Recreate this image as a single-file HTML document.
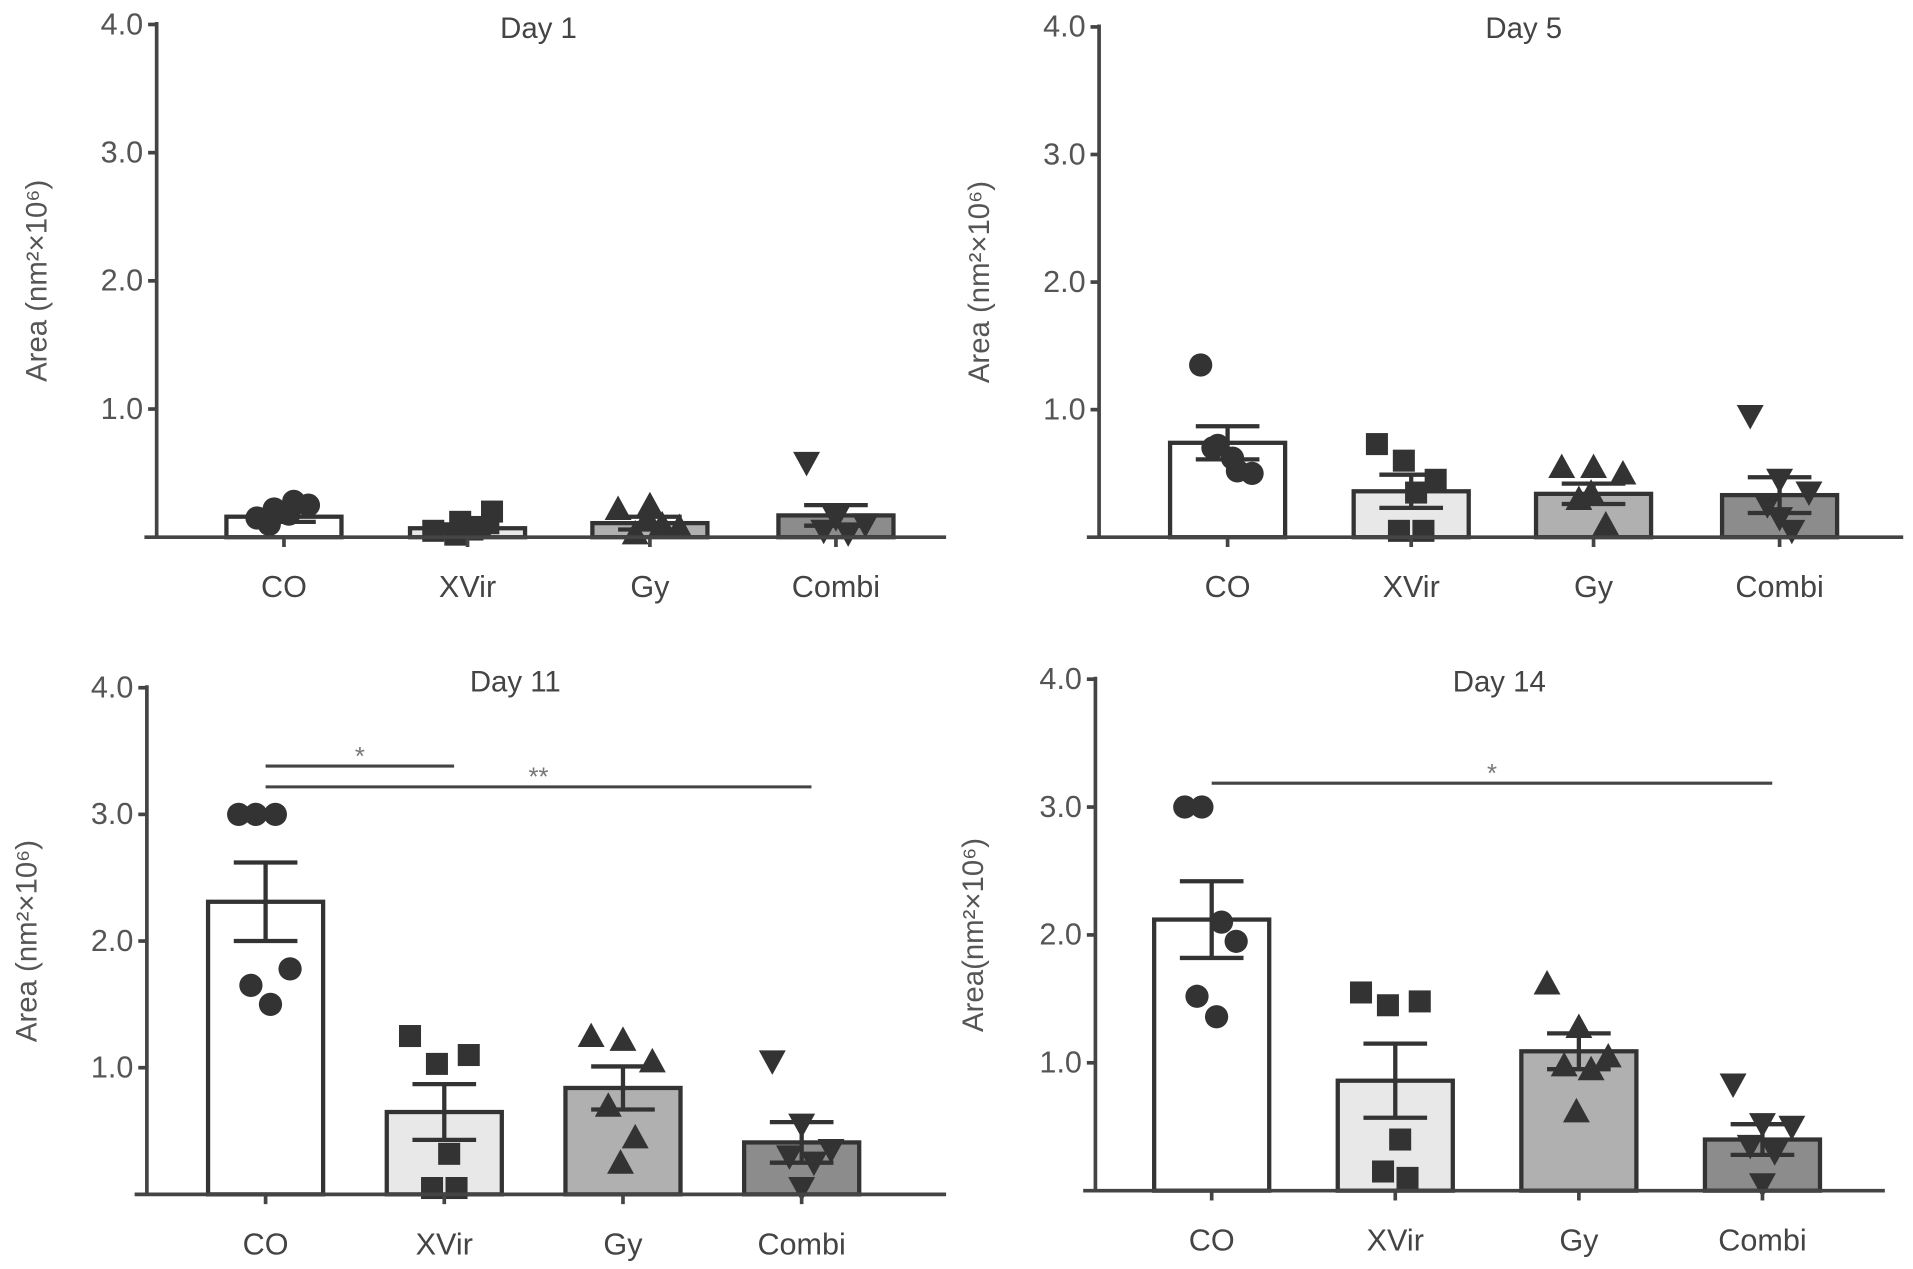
<!DOCTYPE html>
<html><head><meta charset="utf-8"><style>
html,body{margin:0;padding:0;background:#fff;}
svg{display:block;font-family:"Liberation Sans",sans-serif;}
</style></head><body>
<svg id="fig" width="1913" height="1269" viewBox="0 0 1563 1037" preserveAspectRatio="none"></svg>
<script>
const categories = ["CO","XVir","Gy","Combi"];
const tickLabels = ["1.0","2.0","3.0","4.0"];
const tickValues = [1,2,3,4];
const day1Means = [0.16,0.07,0.11,0.17];
const day1Sem = [0.04,0.03,0.05,0.08];
const day1Points = [[0.15,0.22,0.28,0.25,0.10,0.18],[0.05,0.12,0.20,0.06,0.02,0.08],[0.22,0.25,0.08,0.03,0.10,0.15],[0.58,0.15,0.10,0.05,0.03,0.15]];
const day5Means = [0.74,0.36,0.34,0.33];
const day5Sem = [0.13,0.13,0.08,0.14];
const day5Points = [[1.35,0.72,0.52,0.50,0.70,0.62],[0.73,0.60,0.45,0.35,0.05,0.05],[0.55,0.55,0.50,0.30,0.10,0.35],[0.95,0.45,0.35,0.25,0.05,0.15]];
const day11Means = [2.31,0.65,0.84,0.41];
const day11Sem = [0.31,0.22,0.17,0.16];
const day11Points = [[3.0,3.0,3.0,1.78,1.65,1.50],[1.25,1.03,1.10,0.32,0.05,0.05],[1.25,1.22,1.05,0.70,0.45,0.25],[1.05,0.55,0.35,0.30,0.25,0.05]];
const day14Means = [2.12,0.86,1.09,0.40];
const day14Sem = [0.30,0.29,0.14,0.12];
const day14Points = [[3.0,3.0,2.10,1.95,1.52,1.36],[1.55,1.45,1.48,0.40,0.15,0.10],[1.62,1.28,1.05,0.98,0.95,0.62],[0.83,0.52,0.50,0.35,0.30,0.05]];

const NS="http://www.w3.org/2000/svg";
const svg=document.getElementById('fig');
function el(tag,attrs,parent,text){const e=document.createElementNS(NS,tag);for(const k in attrs)e.setAttribute(k,attrs[k]);if(text!==undefined)e.textContent=text;(parent||svg).appendChild(e);return e;}
const fills=["#ffffff","#e8e8e8","#b0b0b0","#8c8c8c"];
const jitter=[[-22,-8,8,20,-12,4],[-28,-6,20,4,-10,10],[-26,0,24,-12,10,-2],[-24,0,24,-10,10,0]];
const panels=[
 {title:"Day 1",tx:440,ty:31,ax:128,y0:439,y4:20,xEnd:773,cx:[232,382,531,683],means:day1Means,sem:day1Sem,pts:day1Points,yl:"Area (nm²×10⁶)",ylx:38,sig:[]},
 {title:"Day 5",tx:1245,ty:31,ax:898,y0:439,y4:22,xEnd:1555,cx:[1003,1153,1302,1454],means:day5Means,sem:day5Sem,pts:day5Points,yl:"Area (nm²×10⁶)",ylx:808,sig:[]},
 {title:"Day 11",tx:421,ty:565,ax:120,y0:976,y4:562,xEnd:773,cx:[217,363,509,655],means:day11Means,sem:day11Sem,pts:day11Points,yl:"Area (nm²×10⁶)",ylx:30,sig:[[0,1,626,"*"],[0,3,643,"**"]]},
 {title:"Day 14",tx:1225,ty:565,ax:895,y0:973,y4:555,xEnd:1540,cx:[990,1140,1290,1440],means:day14Means,sem:day14Sem,pts:day14Points,yl:"Area(nm²×10⁶)",ylx:803,sig:[[0,3,640,"*"]]}
];
panels.forEach((p,pi)=>{
 const g=el('g',{});
 
 
 const ys=v=>p.y0-(p.y0-p.y4)*v/4;
 const t=el('text',{x:p.tx,y:p.ty,'font-size':24,fill:'#444','text-anchor':'middle'},g,p.title);
 
 
 const ymid=(p.y0+p.y4)/2;
 const yl=el('text',{x:p.ylx,y:ymid,'font-size':24,fill:'#555','text-anchor':'middle',transform:`rotate(-90 ${p.ylx} ${ymid})`},g,p.yl);
 
 
 const ya=el('line',{x1:p.ax,y1:p.y4-2,x2:p.ax,y2:p.y0,stroke:'#444','stroke-width':3},g);
 
 
 tickValues.forEach((v,i)=>{
  el('line',{x1:p.ax-7,y1:ys(v),x2:p.ax,y2:ys(v),stroke:'#444','stroke-width':3},g);
  const tl=el('text',{x:p.ax-11,y:ys(v)+8,'font-size':25,fill:'#555','text-anchor':'end'},g,tickLabels[i]);
  
  
 });
 p.cx.forEach((cx,i)=>{
  const bw=94, top=ys(p.means[i]);
  const r=el('rect',{x:cx-bw/2,y:top,width:bw,height:p.y0-top,fill:fills[i],stroke:'#333','stroke-width':3.5},g);
  
  
 });
 p.cx.forEach((cx,i)=>{
  p.pts[i].forEach((v,j)=>{
   const x=cx+jitter[i][j], y=ys(v); let m;
   if(i===0) m=el('circle',{cx:x,cy:y,r:9.5,fill:'#333'},g);
   else if(i===1) m=el('rect',{x:x-9,y:y-9,width:18,height:18,fill:'#333'},g);
   else if(i===2) m=el('polygon',{points:`${x},${y-11} ${x-11},${y+9} ${x+11},${y+9}`,fill:'#333'},g);
   else m=el('polygon',{points:`${x},${y+11} ${x-11},${y-9} ${x+11},${y-9}`,fill:'#333'},g);
   
   
  });
  const hi=ys(p.means[i]+p.sem[i]), lo=ys(p.means[i]-p.sem[i]);
  const eb=el('path',{d:`M${cx},${lo}V${hi}M${cx-26},${hi}H${cx+26}M${cx-26},${lo}H${cx+26}`,stroke:'#333','stroke-width':3.5,fill:'none'},g);
  
  
 });
 const xa=el('line',{x1:p.ax-10,y1:p.y0,x2:p.xEnd,y2:p.y0,stroke:'#444','stroke-width':3},g);
 
 
 p.cx.forEach((cx,i)=>{
  el('line',{x1:cx,y1:p.y0,x2:cx,y2:p.y0+8,stroke:'#444','stroke-width':3},g);
  const xl=el('text',{x:cx,y:p.y0+49,'font-size':25,fill:'#444','text-anchor':'middle'},g,categories[i]);
  
  
 });
 p.sig.forEach(s=>{
  const x1=p.cx[s[0]], x2=p.cx[s[1]]+8;
  const sl=el('line',{x1:x1,y1:s[2],x2:x2,y2:s[2],stroke:'#444','stroke-width':2.5},g);
  
  
  const st=el('text',{x:(x1+x2)/2,y:s[2]-1,'font-size':21,fill:'#777','text-anchor':'middle'},g,s[3]);
  
  
 });
});
</script>
</body></html>
